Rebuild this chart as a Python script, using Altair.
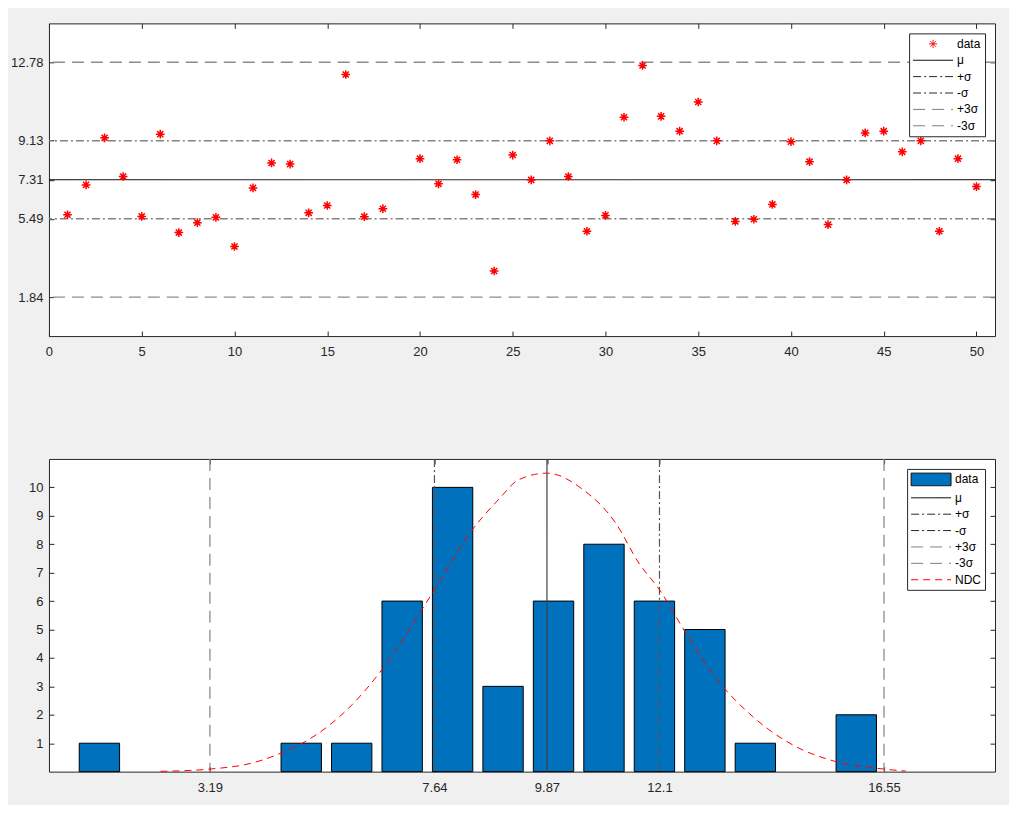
import altair as alt
import pandas as pd

# ---------------- top panel: individual observations ----------------
obs_index = [1, 2, 3, 4, 5, 6, 7, 8, 9, 10, 11, 12, 13, 14, 15, 16, 17, 18,
             20, 21, 22, 23, 24, 25, 26, 27, 28, 29, 30, 31, 32, 33, 34, 35,
             36, 37, 38, 39, 40, 41, 42, 43, 44, 45, 46, 47, 48, 49, 50]
obs_value = [5.68, 7.07, 9.26, 7.46, 5.60, 9.43, 4.85, 5.31, 5.56, 4.20,
             6.93, 8.09, 8.04, 5.77, 6.11, 12.21, 5.59, 5.96,
             8.29, 7.12, 8.24, 6.62, 3.06, 8.46, 7.30, 9.12, 7.46, 4.91,
             5.65, 10.22, 12.63, 10.26, 9.57, 10.93, 9.12, 5.37, 5.47, 6.16,
             9.08, 8.15, 5.22, 7.30, 9.49, 9.57, 8.61, 9.12, 4.91, 8.29, 6.99]
ctrl_names = ["μ", "+σ", "-σ", "+3σ", "-3σ"]
top_ctrl_values = [7.31, 9.13, 5.49, 12.78, 1.84]
top_x_ticks = [0, 5, 10, 15, 20, 25, 30, 35, 40, 45, 50]
top_y_ticks = [1.84, 5.49, 7.31, 9.13, 12.78]
top_legend_names = ["data", "μ", "+σ", "-σ", "+3σ", "-3σ"]

# ---------------- bottom panel: histogram ----------------
bin_centers = [1, 5, 6, 7, 8, 9, 10, 11, 12, 13, 14, 16]
bin_counts = [1, 1, 1, 6, 10, 3, 6, 8, 6, 5, 1, 2]
bot_ctrl_values = [9.87, 12.1, 7.64, 16.55, 3.19]
ndc_x = [2.21, 3.19, 4.02, 4.69, 5.02, 5.61, 6.01, 6.60, 7.39, 7.64, 8.32, 8.92,
         9.31, 9.87, 10.57, 11.23, 11.69, 12.10, 12.62, 13.14, 13.94, 14.73,
         15.52, 16.55, 16.98]
ndc_y = [0.01, 0.09, 0.30, 0.72, 1.00, 1.71, 2.36, 3.59, 5.70, 6.40, 8.34, 9.59,
         10.27, 10.50, 9.94, 8.75, 7.34, 6.40, 4.88, 3.47, 1.95, 0.95,
         0.39, 0.09, 0.02]
bot_x_ticks = [3.19, 7.64, 9.87, 12.1, 16.55]
bot_y_ticks = [1, 2, 3, 4, 5, 6, 7, 8, 9, 10]
bot_legend_names = ["data", "μ", "+σ", "-σ", "+3σ", "-3σ", "NDC"]

# ---------------- styles ----------------
FONT = "Liberation Sans"
AXC = "#262626"
BAR_WIDTH = 0.8
STAR = "M-0.67,0L0.67,0M0,-0.67L0,0.67M-0.47,-0.47L0.47,0.47M-0.47,0.47L0.47,-0.47"
LINE = "M-3.33,0L3.33,0"
RECT = "M-3.33,-1.05L3.33,-1.05L3.33,1.05L-3.33,1.05Z"
SOLID = [1, 0]
DASHDOT = [8, 3, 2, 3]
DASH = [12, 7]
NDC_DASH = [7, 5]
MU = ["μ"]
SIG = ["+σ", "-σ"]
SIG3 = ["+3σ", "-3σ"]


def ax(orient, values, labels=True, fmt=None):
    kw = dict(orient=orient, values=values, domain=False, offset=-5, tickSize=5,
              tickColor=AXC, tickWidth=1, grid=False, title=None, labels=labels,
              labelFont=FONT, labelFontSize=13, labelColor=AXC, labelFlush=False)
    if fmt:
        kw["format"] = fmt
    kw["labelPadding"] = 6 if orient in ("left", "right") else 9.5
    return alt.Axis(**kw)


def legend():
    return alt.Legend(title=None, orient="top-right", offset=10, padding=4,
                      fillColor="white", strokeColor=AXC, labelFont=FONT,
                      labelFontSize=12, labelColor="#000000", symbolSize=144,
                      symbolStrokeWidth=1, symbolOffset=13.5, labelOffset=17.5,
                      rowPadding=3.4, symbolOpacity=1)


def hrules(df, names, color, dash, width, scale):
    return alt.Chart(df).transform_filter(
        alt.FieldOneOfPredicate(field="series", oneOf=names)
    ).mark_rule(stroke=color, strokeDash=dash, strokeWidth=width).encode(
        y=alt.Y("value:Q", scale=scale, axis=None))


def vrules(df, names, color, dash, width, scale):
    return alt.Chart(df).transform_filter(
        alt.FieldOneOfPredicate(field="series", oneOf=names)
    ).mark_rule(stroke=color, strokeDash=dash, strokeWidth=width).encode(
        x=alt.X("value:Q", scale=scale, axis=None))


# ================= top panel =================
top_pts = pd.DataFrame({"obs": obs_index, "value": obs_value, "series": "data"})
top_ctrl = pd.DataFrame({"series": ctrl_names, "value": top_ctrl_values})
xs_top = alt.Scale(domain=[0, 51], nice=False, zero=False)
ys_top = alt.Scale(domain=[0.03, 14.59], nice=False, zero=False)

top_points = alt.Chart(top_pts).mark_point(
    shape=STAR, size=169, stroke="#ff0000", strokeWidth=1.5, filled=False, opacity=1).encode(
    x=alt.X("obs:Q", scale=xs_top, axis=ax("bottom", top_x_ticks)),
    y=alt.Y("value:Q", scale=ys_top, axis=ax("left", top_y_ticks, fmt=".4~g")),
)

top_leg = alt.Chart(top_pts).mark_point(size=144, opacity=0, filled=False).encode(
    x=alt.X("obs:Q", scale=xs_top, axis=ax("top", top_x_ticks, labels=False)),
    y=alt.Y("value:Q", scale=ys_top, axis=ax("right", top_y_ticks, labels=False)),
    shape=alt.Shape("series:N", scale=alt.Scale(domain=top_legend_names,
                    range=[STAR, LINE, LINE, LINE, LINE, LINE]), legend=legend()),
    stroke=alt.Stroke("series:N", scale=alt.Scale(domain=top_legend_names,
                      range=["#ff0000", "#000000", "#262626", "#262626", "#808080", "#808080"]),
                      legend=legend()),
    strokeDash=alt.StrokeDash("series:N", scale=alt.Scale(domain=top_legend_names,
                              range=[SOLID, SOLID, DASHDOT, DASHDOT, DASH, DASH]),
                              legend=legend()),
    fill=alt.Fill("series:N", scale=alt.Scale(domain=top_legend_names,
                  range=["transparent"] * 6), legend=legend()),
)

top = alt.layer(
    hrules(top_ctrl, MU, "#000000", SOLID, 1, ys_top),
    hrules(top_ctrl, SIG, "#828282", DASHDOT, 1.5, ys_top),
    hrules(top_ctrl, SIG3, "#8c8c8c", DASH, 1.3, ys_top),
    top_points, top_leg,
).resolve_axis(x="independent", y="independent").properties(width=947, height=313)

# ================= bottom panel =================
bars_df = pd.DataFrame({"center": bin_centers, "count": bin_counts, "series": "data"})
bot_ctrl = pd.DataFrame({"series": ctrl_names, "value": bot_ctrl_values})
ndc_df = pd.DataFrame({"x": ndc_x, "y": ndc_y})
xs_bot = alt.Scale(domain=[0, 18.75], nice=False, zero=False)
ys_bot = alt.Scale(domain=[0, 11], nice=False, zero=False)

bars = alt.Chart(bars_df).transform_calculate(
    lo=f"datum.center - {BAR_WIDTH / 2}", hi=f"datum.center + {BAR_WIDTH / 2}"
).mark_bar(fill="#0072BD", stroke="#000000", strokeWidth=1).encode(
    x=alt.X("lo:Q", scale=xs_bot, axis=ax("bottom", bot_x_ticks, fmt=".4~g")),
    x2="hi:Q",
    y=alt.Y("count:Q", scale=ys_bot, axis=ax("left", bot_y_ticks)),
    y2=alt.datum(0),
)

curve = alt.Chart(ndc_df).mark_line(color="#ff0000", strokeDash=NDC_DASH, strokeWidth=1,
                                    interpolate="monotone").encode(
    x=alt.X("x:Q", scale=xs_bot, axis=None),
    y=alt.Y("y:Q", scale=ys_bot, axis=None),
)

bot_leg = alt.Chart(bars_df).mark_point(size=144, opacity=0, filled=False).encode(
    x=alt.X("center:Q", scale=xs_bot, axis=ax("top", bot_x_ticks, labels=False)),
    y=alt.Y("count:Q", scale=ys_bot, axis=ax("right", bot_y_ticks, labels=False)),
    shape=alt.Shape("series:N", scale=alt.Scale(domain=bot_legend_names,
                    range=[RECT, LINE, LINE, LINE, LINE, LINE, LINE]), legend=legend()),
    stroke=alt.Stroke("series:N", scale=alt.Scale(domain=bot_legend_names,
                      range=["#000000", "#000000", "#262626", "#262626", "#808080",
                             "#808080", "#ff0000"]), legend=legend()),
    strokeDash=alt.StrokeDash("series:N", scale=alt.Scale(domain=bot_legend_names,
                              range=[SOLID, SOLID, DASHDOT, DASHDOT, DASH, DASH, NDC_DASH]),
                              legend=legend()),
    fill=alt.Fill("series:N", scale=alt.Scale(domain=bot_legend_names,
                  range=["#0072BD"] + ["transparent"] * 6), legend=legend()),
)

bottom = alt.layer(
    bars,
    vrules(bot_ctrl, MU, "#404040", SOLID, 1.2, xs_bot),
    vrules(bot_ctrl, SIG, "#555555", DASHDOT, 1.2, xs_bot),
    vrules(bot_ctrl, SIG3, "#8c8c8c", DASH, 1.3, xs_bot),
    curve, bot_leg,
).resolve_axis(x="independent", y="independent").properties(width=947, height=313)

chart = alt.vconcat(top, bottom, spacing=98).resolve_scale(
    shape="independent", stroke="independent", strokeDash="independent",
    fill="independent").properties(
    padding={"left": 1, "top": 14, "right": 12, "bottom": 10},
    background="#f0f0f0",
).configure_view(fill="white", stroke=AXC, strokeWidth=1)

chart.save("out.html", embed_options={"renderer": "svg", "actions": False})
